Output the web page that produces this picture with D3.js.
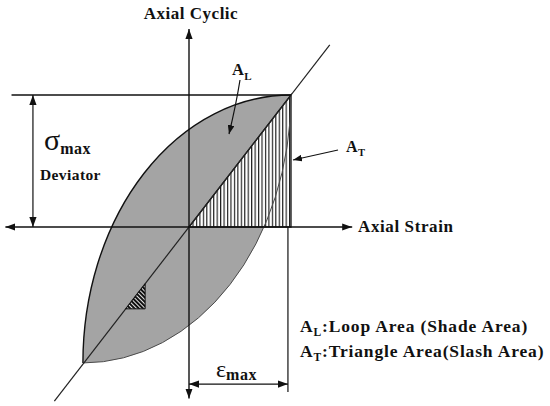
<!DOCTYPE html>
<html>
<head>
<meta charset="utf-8">
<script src="https://cdn.jsdelivr.net/npm/d3@7"></script>
<style>
  body { margin: 0; background: #fff; }
  text { font-family: "Liberation Serif", "Times New Roman", serif; font-weight: bold; fill: #111; }
</style>
</head>
<body>
<div id="chart"></div>
<script>
// Schematic values, in units of (strain / eps_max, stress / sigma_max)
const peak = [1, 1];
const tip = [-1.04, -1.03];
const strainAxis = [-1.8, 1.6];
const stressAxis = [-1.3, 1.5];
const diagonal = [-1.32, 1.38];
const sigmaLine = [-1.74, 1];      // level line: x from, x to
const sigmaDimX = -1.53;
const epsDimY = -1.19;
const epsExtension = [0.97, 0, -1.25];  // x, y from, y to
const smallTriangle = [[-0.62, -0.62], [-0.43, -0.43], [-0.43, -0.62]];

const width = 550, height = 406;

const svg = d3.select('#chart')
    .append('svg')
    .attr('width', width)
    .attr('height', height);

// scales: origin and peak positions
const x = d3.scaleLinear().domain([0, 1]).range([189, 291]);
const y = d3.scaleLinear().domain([0, 1]).range([227, 95]);

const defs = svg.append('defs');

// arrowhead markers
function marker(id, len, half) {
    defs.append('marker')
        .attr('id', id)
        .attr('viewBox', `0 ${-half} ${len} ${half * 2}`)
        .attr('refX', len)
        .attr('refY', 0)
        .attr('markerUnits', 'userSpaceOnUse')
        .attr('markerWidth', len)
        .attr('markerHeight', half * 2)
        .attr('orient', 'auto-start-reverse')
        .append('path')
        .attr('d', `M0,${-half}L${len},0L0,${half}Z`)
        .attr('fill', '#111');
}
marker('arrow', 10, 3.6);
marker('arrowSmall', 9, 3.4);

// vertical hatching
const vh = defs.append('pattern')
    .attr('id', 'vhatch')
    .attr('patternUnits', 'userSpaceOnUse')
    .attr('x', x(0))
    .attr('width', 3.45)
    .attr('height', 10);
vh.append('rect').attr('width', 3.45).attr('height', 10).attr('fill', '#fff');
vh.append('line').attr('x1', 0.6).attr('x2', 0.6).attr('y1', 0).attr('y2', 10)
    .attr('stroke', '#111').attr('stroke-width', 1.1);

// diagonal hatching (dark)
const dh = defs.append('pattern')
    .attr('id', 'dhatch')
    .attr('patternUnits', 'userSpaceOnUse')
    .attr('width', 3)
    .attr('height', 3)
    .attr('patternTransform', 'rotate(45)');
dh.append('rect').attr('width', 3).attr('height', 3).attr('fill', '#111');
dh.append('line').attr('x1', 0).attr('x2', 3).attr('y1', 1.5).attr('y2', 1.5)
    .attr('stroke', '#fff').attr('stroke-width', 0.9);

// ellipse radii of the loop
const rx = x(peak[0]) - x(tip[0]);
const ry = y(tip[1]) - y(peak[1]);

const upperArc = `M${x(tip[0])},${y(tip[1])}A${rx},${ry} 0 0 1 ${x(peak[0])},${y(peak[1])}`;
const lowerArc = `M${x(peak[0])},${y(peak[1])}A${rx},${ry} 0 0 1 ${x(tip[0])},${y(tip[1])}`;

// loop (shade area)
svg.append('path')
    .attr('d', `${upperArc}A${rx},${ry} 0 0 1 ${x(tip[0])},${y(tip[1])}Z`)
    .attr('fill', '#a4a4a4')
    .attr('stroke', 'none');

// triangle (slash area)
const tri = [[0, 0], peak, [peak[0], 0]];
svg.append('path')
    .attr('d', d3.line().x(d => x(d[0])).y(d => y(d[1]))(tri) + 'Z')
    .attr('fill', 'url(#vhatch)')
    .attr('stroke', '#111')
    .attr('stroke-width', 1.3);

// lower branch (lighter)
svg.append('path')
    .attr('d', lowerArc)
    .attr('fill', 'none')
    .attr('stroke', '#4a4a4a')
    .attr('stroke-width', 1);

// upper branch
svg.append('path')
    .attr('d', upperArc)
    .attr('fill', 'none')
    .attr('stroke', '#111')
    .attr('stroke-width', 1.4);

// diagonal line through origin and peak
svg.append('line')
    .attr('x1', x(diagonal[0])).attr('y1', y(diagonal[0]))
    .attr('x2', x(diagonal[1])).attr('y2', y(diagonal[1]))
    .attr('stroke', '#222').attr('stroke-width', 1.2);

// small hatched triangle
svg.append('path')
    .attr('d', d3.line().x(d => x(d[0])).y(d => y(d[1]))(smallTriangle) + 'Z')
    .attr('fill', 'url(#dhatch)')
    .attr('stroke', '#111')
    .attr('stroke-width', 1);

// axes
svg.append('line')
    .attr('x1', x(strainAxis[0])).attr('y1', y(0))
    .attr('x2', x(strainAxis[1])).attr('y2', y(0))
    .attr('stroke', '#111').attr('stroke-width', 1.4)
    .attr('marker-start', 'url(#arrow)')
    .attr('marker-end', 'url(#arrow)');

svg.append('line')
    .attr('x1', x(0)).attr('y1', y(stressAxis[0]))
    .attr('x2', x(0)).attr('y2', y(stressAxis[1]))
    .attr('stroke', '#111').attr('stroke-width', 1.4)
    .attr('marker-start', 'url(#arrow)')
    .attr('marker-end', 'url(#arrow)');

// sigma max level line
svg.append('line')
    .attr('x1', x(sigmaLine[0])).attr('y1', y(peak[1]))
    .attr('x2', x(sigmaLine[1])).attr('y2', y(peak[1]))
    .attr('stroke', '#111').attr('stroke-width', 1.3);

// sigma max dimension
svg.append('line')
    .attr('x1', x(sigmaDimX)).attr('y1', y(0))
    .attr('x2', x(sigmaDimX)).attr('y2', y(peak[1]))
    .attr('stroke', '#111').attr('stroke-width', 1.2)
    .attr('marker-start', 'url(#arrow)')
    .attr('marker-end', 'url(#arrow)');

// eps max extension and dimension
svg.append('line')
    .attr('x1', x(epsExtension[0])).attr('y1', y(epsExtension[1]))
    .attr('x2', x(epsExtension[0])).attr('y2', y(epsExtension[2]))
    .attr('stroke', '#111').attr('stroke-width', 1.2);

svg.append('line')
    .attr('x1', x(0)).attr('y1', y(epsDimY))
    .attr('x2', x(epsExtension[0])).attr('y2', y(epsDimY))
    .attr('stroke', '#111').attr('stroke-width', 1.2)
    .attr('marker-start', 'url(#arrow)')
    .attr('marker-end', 'url(#arrow)');

// pointer arrows for A_L and A_T
svg.append('path')
    .attr('d', 'M240,80Q236,105 229,134')
    .attr('fill', 'none')
    .attr('stroke', '#111').attr('stroke-width', 1.2)
    .attr('marker-end', 'url(#arrowSmall)');

svg.append('line')
    .attr('x1', 338).attr('y1', 150)
    .attr('x2', 293).attr('y2', 160)
    .attr('stroke', '#111').attr('stroke-width', 1.2)
    .attr('marker-end', 'url(#arrowSmall)');

// labels
function subLabel(px, py, main, sub, size, subSize) {
    const t = svg.append('text')
        .attr('x', px).attr('y', py)
        .style('font-size', size + 'px')
        .style('letter-spacing', '0.4px');
    t.append('tspan').text(main);
    t.append('tspan').attr('dy', size * 0.28).style('font-size', subSize + 'px').text(sub);
    return t;
}

svg.append('text')
    .attr('x', 191).attr('y', 19)
    .attr('text-anchor', 'middle')
    .style('font-size', '17px')
    .style('letter-spacing', '0.5px')
    .text('Axial Cyclic');

svg.append('text')
    .attr('x', 358).attr('y', 232)
    .style('font-size', '17px')
    .style('letter-spacing', '0.6px')
    .text('Axial Strain');

subLabel(232, 75, 'A', 'L', 16.5, 11);
subLabel(346, 152, 'A', 'T', 16, 10.5);

// sigma max
const sig = svg.append('text').attr('x', 44).attr('y', 150);
sig.append('tspan').style('font-size', '30px').style('font-weight', 'normal').text('σ');
sig.append('tspan').attr('dy', 4).style('font-size', '16px').style('letter-spacing', '0.5px').text('max');

svg.append('text')
    .attr('x', 40).attr('y', 180)
    .style('font-size', '15.5px')
    .style('letter-spacing', '0.4px')
    .text('Deviator');

// eps max
const eps = svg.append('text').attr('x', 216).attr('y', 377);
eps.append('tspan').style('font-size', '24px').style('font-weight', 'normal').text('ε');
eps.append('tspan').attr('dy', 3).style('font-size', '16px').style('letter-spacing', '0.5px').text('max');

// legend lines
const legend = [
    {main: 'A', sub: 'L', rest: ':Loop Area (Shade Area)', y: 332},
    {main: 'A', sub: 'T', rest: ':Triangle Area(Slash Area)', y: 357}
];
legend.forEach(d => {
    const t = svg.append('text')
        .attr('x', 300).attr('y', d.y)
        .style('font-size', '17.5px')
        .style('letter-spacing', '0.85px');
    t.append('tspan').text(d.main);
    t.append('tspan').attr('dy', 4).style('font-size', '11.5px').text(d.sub);
    t.append('tspan').attr('dy', -4).text(d.rest);
});
</script>
</body>
</html>
